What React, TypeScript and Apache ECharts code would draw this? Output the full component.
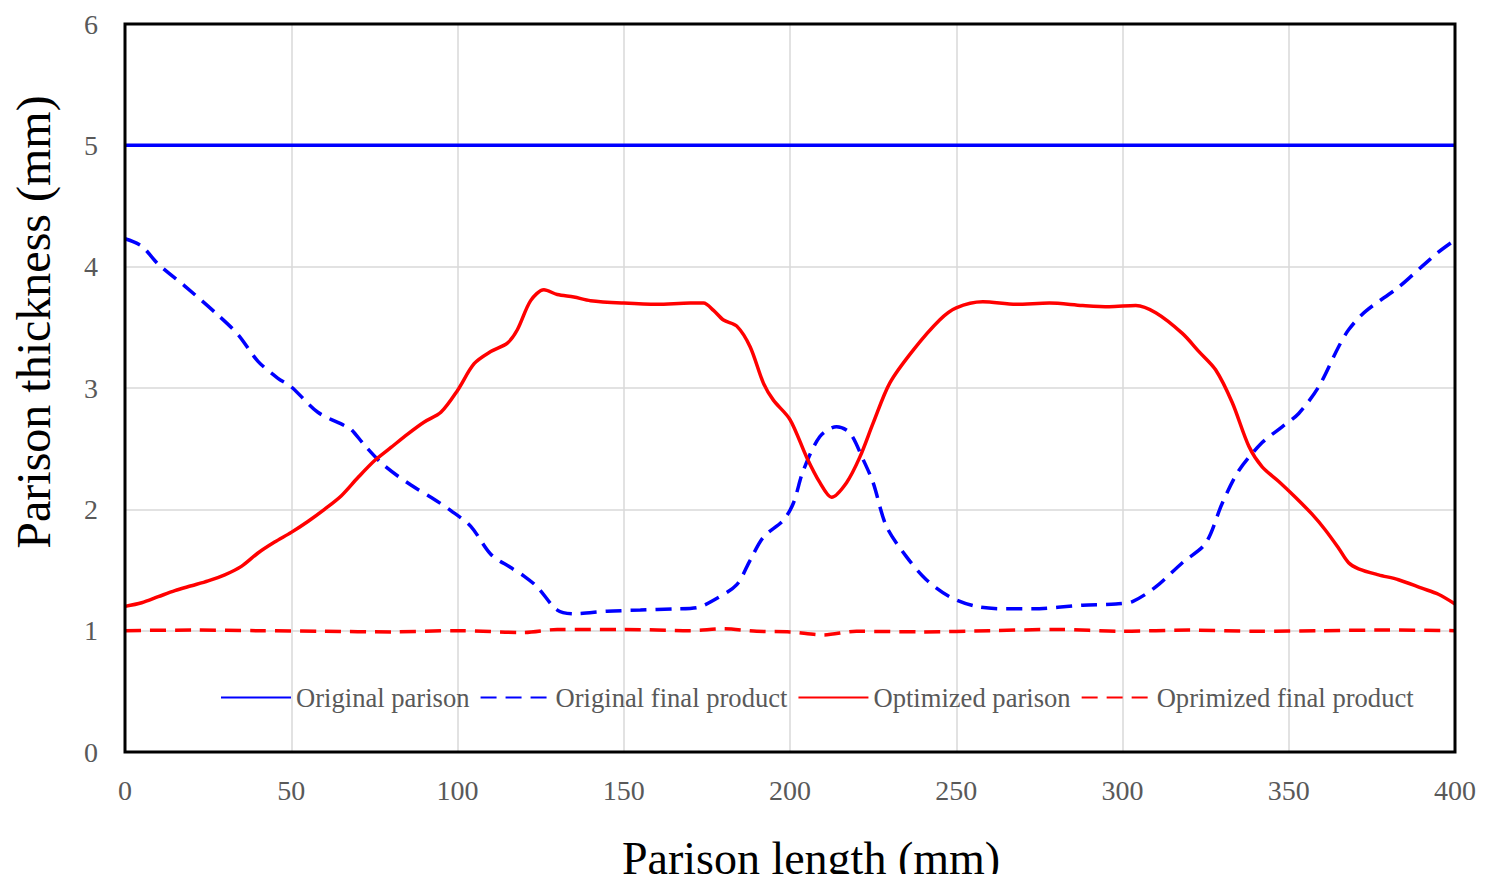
import React, { useEffect, useRef } from "react";
import * as echarts from "echarts";

const originalParison: [number, number][] = [
  [0, 5], [400, 5],
];

const originalFinal: [number, number][] = [
  [0, 4.23], [5, 4.17], [10, 4.02], [18, 3.84], [28, 3.6], [34, 3.44], [40, 3.22], [46, 3.08],
  [50, 3.01], [58, 2.8], [66, 2.69], [68, 2.66], [72, 2.53], [78, 2.36], [86, 2.2], [92, 2.1],
  [98, 1.99], [104, 1.86], [110, 1.63], [116, 1.52], [120, 1.45], [124, 1.36], [130, 1.17],
  [135, 1.14], [145, 1.16], [155, 1.17], [165, 1.18], [172, 1.19], [177, 1.25], [184, 1.38],
  [188, 1.58], [192, 1.77], [198, 1.91], [201, 2.05], [204, 2.32], [209, 2.6], [214, 2.68],
  [218, 2.63], [222, 2.41], [225, 2.22], [229, 1.86], [235, 1.61], [241, 1.42], [248, 1.28],
  [256, 1.2], [265, 1.18], [273, 1.18], [288, 1.21], [298, 1.22], [303, 1.24], [310, 1.36],
  [318, 1.56], [325, 1.72], [330, 2.05], [335, 2.32], [342, 2.55], [348, 2.68], [353, 2.79],
  [359, 3.01], [365, 3.34], [368, 3.48], [373, 3.63], [383, 3.83], [390, 4.0], [395, 4.12],
  [400, 4.22],
];

const optimizedParison: [number, number][] = [
  [0, 1.2], [5, 1.23], [10, 1.28], [15, 1.33], [20, 1.37], [25, 1.41], [30, 1.46], [35, 1.53],
  [40, 1.64], [45, 1.73], [50, 1.81], [55, 1.9], [60, 2.0], [65, 2.11], [70, 2.26], [75, 2.4],
  [80, 2.51], [85, 2.62], [90, 2.72], [95, 2.8], [100, 2.98], [105, 3.2], [110, 3.3], [115, 3.37],
  [118, 3.48], [122, 3.72], [126, 3.81], [130, 3.77], [135, 3.75], [140, 3.72], [150, 3.7],
  [160, 3.69], [170, 3.7], [174, 3.7], [177, 3.64], [180, 3.56], [184, 3.51], [188, 3.34],
  [192, 3.04], [195, 2.9], [200, 2.74], [205, 2.43], [209, 2.22], [212.5, 2.1], [217, 2.22],
  [221, 2.43], [225, 2.71], [230, 3.04], [237, 3.31], [245, 3.56], [250, 3.66], [258, 3.71],
  [268, 3.69], [278, 3.7], [288, 3.68], [296, 3.67], [304, 3.68], [310, 3.62], [318, 3.45],
  [323, 3.3], [328, 3.15], [333, 2.88], [338, 2.52], [342, 2.35], [347, 2.23], [352, 2.1],
  [357, 1.96], [361, 1.83], [365, 1.68], [368, 1.56], [371, 1.51], [377, 1.46], [383, 1.42],
  [390, 1.35], [395, 1.3], [400, 1.22],
];

const optimizedFinal: [number, number][] = [
  [0, 1.0], [20, 1.005], [40, 1.0], [60, 0.995], [80, 0.99], [100, 1.0], [120, 0.985],
  [130, 1.01], [150, 1.01], [170, 1.0], [180, 1.015], [190, 0.995], [200, 0.99], [210, 0.965],
  [220, 0.995], [240, 0.99], [260, 1.0], [280, 1.01], [300, 0.995], [320, 1.005], [340, 0.995],
  [360, 1.0], [380, 1.005], [400, 1.0],
];

const seriesNames = [
  "Original parison",
  "Original final product",
  "Optimized parison",
  "Oprimized final product",
];

const xTitle = "Parison length (mm)";
const yTitle = "Parison thickness (mm)";

const FONT = "'Liberation Serif', 'Times New Roman', serif";

export default function App() {
  const ref = useRef<HTMLDivElement>(null);
  useEffect(() => {
    if (!ref.current) return;
    const chart = echarts.init(ref.current, undefined, { renderer: "svg" });
    const dash = [16, 9];
    const mk = (name: string, data: [number, number][], color: string, dashed: boolean) => ({
      name,
      type: "line",
      data,
      smooth: 0.3,
      symbol: "none",
      lineStyle: { color, width: 3.5, type: dashed ? dash : "solid" },
      itemStyle: { color },
      z: 3,
    });
    chart.setOption({
      animation: false,
      backgroundColor: "#fff",
      textStyle: { fontFamily: FONT },
      grid: {
        left: 125,
        right: 30,
        top: 24,
        bottom: 130,
        show: true,
        borderColor: "#000",
        borderWidth: 3,
        z: 5,
      },
      legend: {
        data: seriesNames,
        left: 220,
        top: 684,
        padding: 0,
        itemWidth: 70,
        itemHeight: 14,
        itemGap: 10,
        itemStyle: { opacity: 0 },
        textStyle: { fontFamily: FONT, fontSize: 26.6, color: "#595959" },
      },
      graphic: [
        {
          type: "text",
          x: 811,
          y: 881,
          style: {
            text: xTitle,
            font: `46px ${FONT}`,
            fill: "#000",
            align: "center",
            verticalAlign: "bottom",
          },
        },
        {
          type: "text",
          x: 33,
          y: 322,
          rotation: Math.PI / 2,
          style: {
            text: yTitle,
            font: `48px ${FONT}`,
            fill: "#000",
            align: "center",
            verticalAlign: "middle",
          },
        },
      ],
      xAxis: {
        type: "value",
        min: 0,
        max: 400,
        interval: 50,
        axisLine: { show: true, lineStyle: { color: "#000", width: 2 } },
        axisTick: { show: false },
        axisLabel: { fontFamily: FONT, fontSize: 28, color: "#595959", margin: 24 },
        splitLine: { show: true, lineStyle: { color: "#d9d9d9", width: 1.5 } },
      },
      yAxis: {
        type: "value",
        min: 0,
        max: 6,
        interval: 1,
        axisLine: { show: true, lineStyle: { color: "#000", width: 2 } },
        axisTick: { show: false },
        axisLabel: { fontFamily: FONT, fontSize: 28, color: "#595959", margin: 27 },
        splitLine: { show: true, lineStyle: { color: "#d9d9d9", width: 1.5 } },
      },
      series: [
        mk(seriesNames[0], originalParison, "#0000ff", false),
        mk(seriesNames[1], originalFinal, "#0000ff", true),
        mk(seriesNames[2], optimizedParison, "#ff0000", false),
        mk(seriesNames[3], optimizedFinal, "#ff0000", true),
      ],
    });
    return () => chart.dispose();
  }, []);
  return <div ref={ref} style={{ width: 1485, height: 882, margin: -8 }} />;
}
